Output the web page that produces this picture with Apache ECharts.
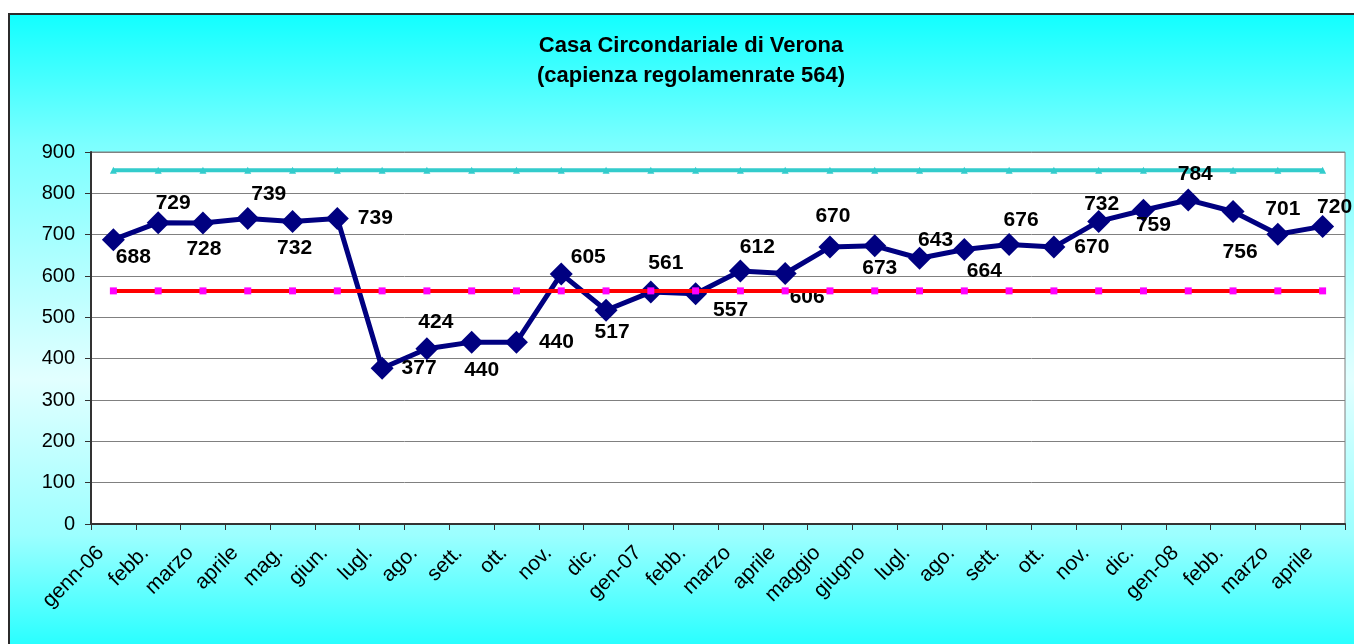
<!DOCTYPE html>
<html>
<head>
<meta charset="utf-8">
<script src="https://cdn.jsdelivr.net/npm/echarts@6/dist/echarts.min.js"></script>
<style>
  html, body { margin: 0; padding: 0; background: #fff; overflow: hidden; }
  #bg {
    position: absolute; left: 8px; top: 13px; width: 1370px; height: 650px;
    border-left: 2px solid #2b2b2b; border-top: 2px solid #2b2b2b;
    background: linear-gradient(to bottom, #12ffff 0%, #7cffff 20%, #e2ffff 56%, #9cffff 80%, #14ffff 100%);
  }
  #chart { position: absolute; left: 0; top: 0; width: 1354px; height: 644px; }
</style>
</head>
<body>
<div id="bg"></div>
<div id="chart"></div>
<script>
  // mesi (gen 2006 - apr 2008)
  var mesi = ['genn-06', 'febb.', 'marzo', 'aprile', 'mag.', 'giun.', 'lugl.', 'ago.', 'sett.', 'ott.',
    'nov.', 'dic.', 'gen-07', 'febb.', 'marzo', 'aprile', 'maggio', 'giugno', 'lugl.', 'ago.',
    'sett.', 'ott.', 'nov.', 'dic.', 'gen-08', 'febb.', 'marzo', 'aprile'];
  // detenuti presenti
  var presenti = [688, 729, 728, 739, 732, 739, 377, 424, 440, 440,
    605, 517, 561, 557, 612, 606, 670, 673, 643, 664,
    676, 670, 732, 759, 784, 756, 701, 720];
  // capienza regolamentare
  var regolamentare = [564, 564, 564, 564, 564, 564, 564, 564, 564, 564,
    564, 564, 564, 564, 564, 564, 564, 564, 564, 564,
    564, 564, 564, 564, 564, 564, 564, 564];
  // capienza tollerabile
  var tollerabile = [856, 856, 856, 856, 856, 856, 856, 856, 856, 856,
    856, 856, 856, 856, 856, 856, 856, 856, 856, 856,
    856, 856, 856, 856, 856, 856, 856, 856];
  var yTicks = { min: 0, max: 900, step: 100 };

  // spostamento etichette (come nel grafico excel)
  var labelShift = [[20, 18], [15, -19], [1, 26], [21, -24], [2, 27], [38, 0], [37, 0], [9, -27], [10, 28], [40, 0],
    [27, -17], [6, 22], [15, -29], [35, 16], [17, -24], [22, 24], [3, -31], [5, 22], [16, -18], [20, 22],
    [12, -24], [38, 0], [3, -17], [10, 15], [7, -26], [7, 41], [5, -25], [12, -19]];

  var font = '"Liberation Sans", Arial, sans-serif';

  var mainData = presenti.map(function (v, i) {
    return { value: v, label: { offset: labelShift[i] } };
  });

  var chart = echarts.init(document.getElementById('chart'));
  var options = {
    animation: false,
    backgroundColor: 'transparent',
    title: {
      text: 'Casa Circondariale di Verona\n(capienza regolamenrate 564)',
      left: 686,
      top: 26,
      textAlign: 'center',
      textStyle: { fontFamily: font, fontWeight: 'bold', fontSize: 22, lineHeight: 30, color: '#000' }
    },
    grid: {
      left: 91, right: 9, top: 152, bottom: 120,
      show: true, backgroundColor: '#fff', borderColor: '#808080', borderWidth: 1
    },
    xAxis: {
      type: 'category',
      data: mesi,
      boundaryGap: true,
      axisLine: { lineStyle: { color: '#333', width: 2 } },
      axisTick: { show: true, length: 6, lineStyle: { color: '#333' } },
      axisLabel: { rotate: 45, fontSize: 21, fontFamily: font, color: '#000', margin: 13, interval: 0, padding: [0, 18, 0, 0] }
    },
    yAxis: {
      type: 'value',
      min: yTicks.min, max: yTicks.max, interval: yTicks.step,
      axisLine: { show: true, lineStyle: { color: '#333', width: 2 } },
      axisTick: { show: true, length: 6, lineStyle: { color: '#333' } },
      axisLabel: { fontSize: 20, fontFamily: font, color: '#000', margin: 16 },
      splitLine: { lineStyle: { color: '#808080', width: 1 } }
    },
    series: [
      {
        name: 'tollerabile',
        type: 'line',
        data: tollerabile,
        symbol: 'triangle',
        symbolSize: 7,
        itemStyle: { color: '#33cccc' },
        lineStyle: { color: '#33cccc', width: 4 },
        z: 2
      },
      {
        name: 'presenti',
        type: 'line',
        data: mainData,
        symbol: 'diamond',
        symbolSize: 23,
        itemStyle: { color: '#000080' },
        lineStyle: { color: '#000080', width: 5 },
        label: {
          show: true,
          position: 'inside',
          fontFamily: font,
          fontSize: 21,
          fontWeight: 'bold',
          color: '#000'
        },
        z: 3
      },
      {
        name: 'regolamentare',
        type: 'line',
        data: regolamentare,
        symbol: 'rect',
        symbolSize: 7,
        itemStyle: { color: '#ff00ff' },
        lineStyle: { color: '#ff0000', width: 4 },
        z: 4
      }
    ]
  };
  chart.setOption(options);
</script>
</body>
</html>
